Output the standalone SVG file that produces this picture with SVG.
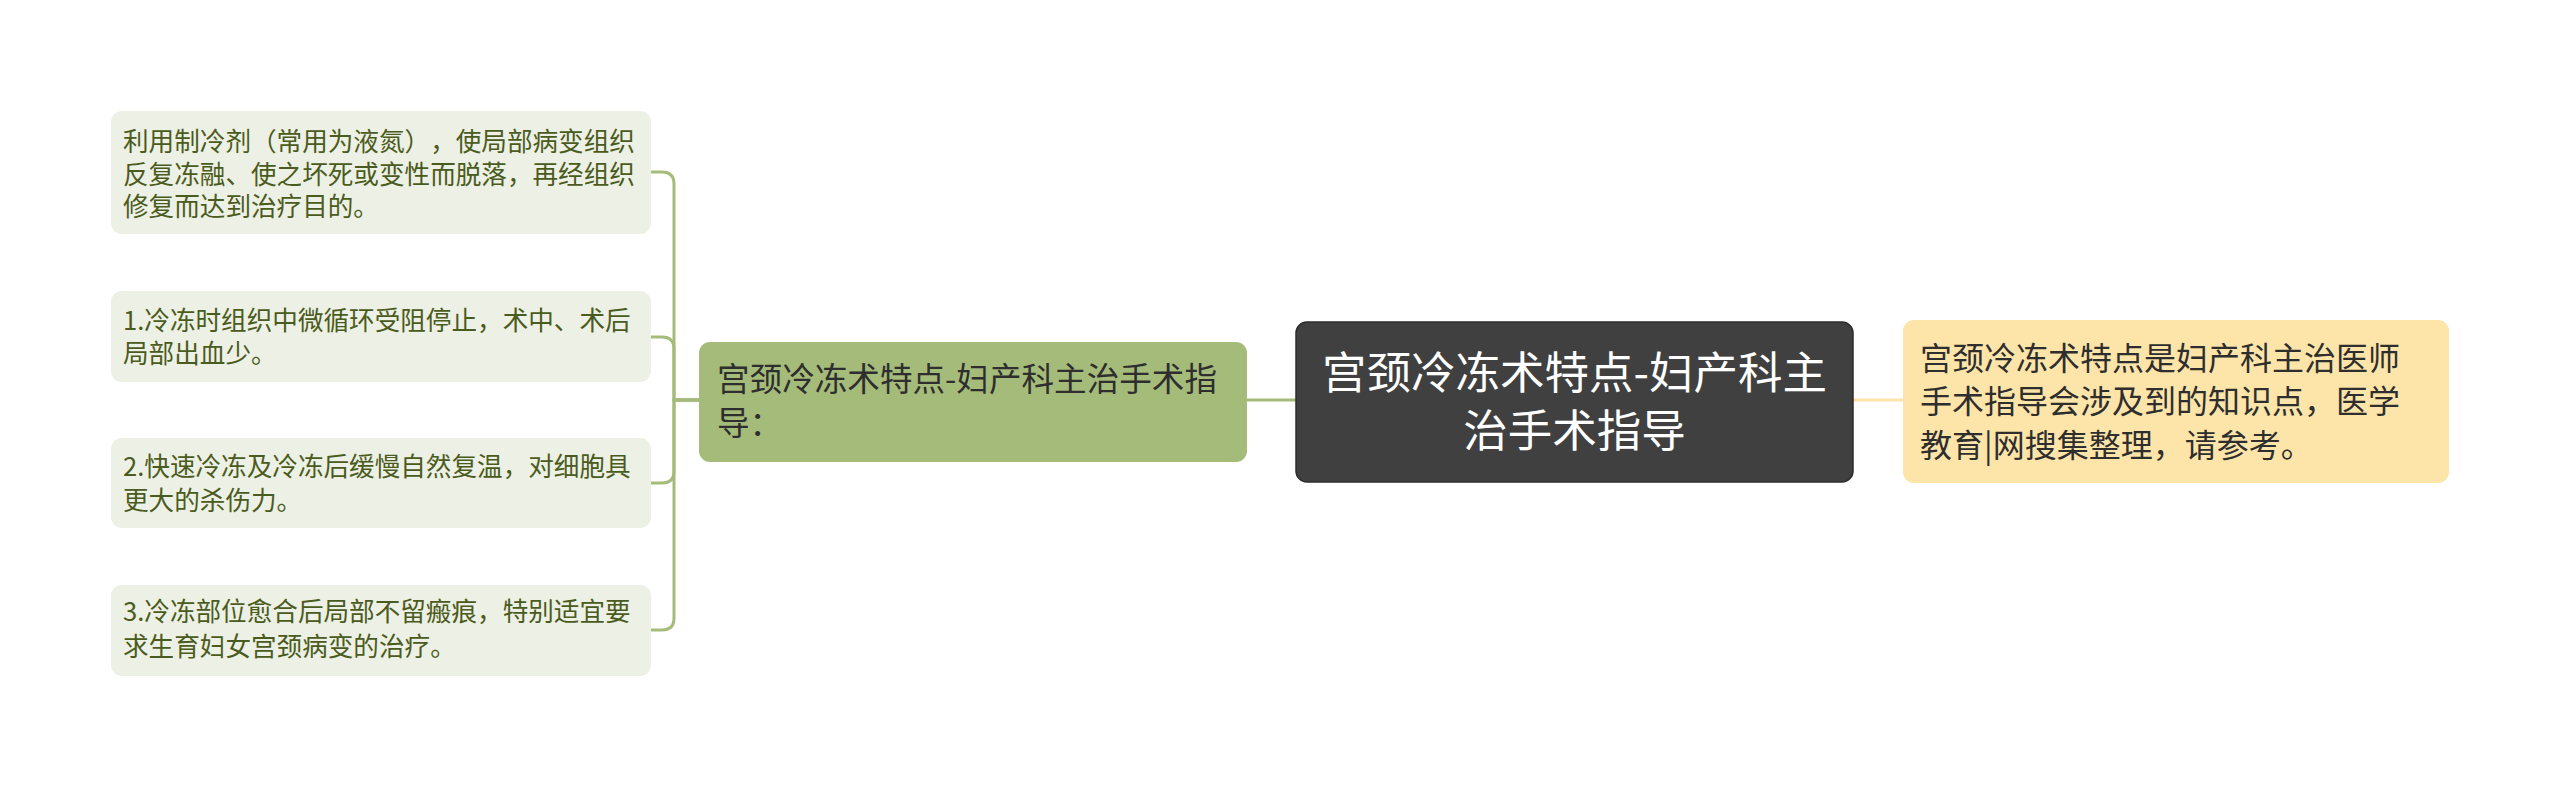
<svg xmlns="http://www.w3.org/2000/svg" width="2560" height="787" viewBox="0 0 2560 787">
<style>
text{font-family:"Noto Sans CJK SC","Noto Sans",sans-serif;text-spacing-trim:space-all;}
.leafbox{fill:#edf0e4;}
.leaftxt{font-size:25.6px;fill:#4a5b20;}
.conn{fill:none;stroke:#a5bb79;stroke-width:3;}
.conny{fill:none;stroke:#fde4a8;stroke-width:3;}
</style>
<rect width="2560" height="787" fill="#ffffff"/>
<g id="connectors">
<path class="conn" d="M699 400 H674 V184 Q674 172 662 172 H651"/>
<path class="conn" d="M699 400 H674 V349 Q674 337 662 337 H651"/>
<path class="conn" d="M699 400 H674 V471 Q674 483 662 483 H651"/>
<path class="conn" d="M699 400 H674 V618 Q674 630 662 630 H651"/>
<path class="conn" d="M1247 400 H1296"/>
<path class="conny" d="M1853 400 H1903"/>
</g>
<g id="leaf1">
<rect class="leafbox" x="111" y="111" width="540" height="123" rx="11"/>
<text class="leaftxt"><tspan x="123" y="151">利用制冷剂（常用为液氮），使局部病变组织</tspan><tspan x="123" y="183.5">反复冻融、使之坏死或变性而脱落，再经组织</tspan><tspan x="123" y="216">修复而达到治疗目的。</tspan></text>
</g>
<g id="leaf2">
<rect class="leafbox" x="111" y="291" width="540" height="91" rx="11"/>
<text class="leaftxt"><tspan x="123" y="330">1.冷冻时组织中微循环受阻停止，术中、术后</tspan><tspan x="123" y="363">局部出血少。</tspan></text>
</g>
<g id="leaf3">
<rect class="leafbox" x="111" y="438" width="540" height="90" rx="11"/>
<text class="leaftxt"><tspan x="123" y="476">2.快速冷冻及冷冻后缓慢自然复温，对细胞具</tspan><tspan x="123" y="510">更大的杀伤力。</tspan></text>
</g>
<g id="leaf4">
<rect class="leafbox" x="111" y="585" width="540" height="91" rx="11"/>
<text class="leaftxt"><tspan x="123" y="621">3.冷冻部位愈合后局部不留瘢痕，特别适宜要</tspan><tspan x="123" y="656">求生育妇女宫颈病变的治疗。</tspan></text>
</g>
<g id="branch">
<rect x="699" y="342" width="548" height="120" rx="11" fill="#a5bb79"/>
<text style="font-size:32.6px;fill:#2e2e2e"><tspan x="717" y="391">宫颈冷冻术特点-妇产科主治手术指</tspan><tspan x="717" y="435">导：</tspan></text>
</g>
<g id="root">
<rect x="1296" y="322" width="557" height="160" rx="11" fill="#404040" stroke="#2c2c2c" stroke-width="1.5"/>
<text style="font-size:44.5px;fill:#ffffff" text-anchor="middle"><tspan x="1574.5" y="389">宫颈冷冻术特点-妇产科主</tspan><tspan x="1574.5" y="447">治手术指导</tspan></text>
</g>
<g id="note">
<rect x="1903" y="320" width="546" height="163" rx="11" fill="#fde4a8"/>
<text style="font-size:32px;fill:#2e2e2e"><tspan x="1920" y="370">宫颈冷冻术特点是妇产科主治医师</tspan><tspan x="1920" y="413">手术指导会涉及到的知识点，医学</tspan><tspan x="1920" y="457">教育|网搜集整理，请参考。</tspan></text>
</g>
</svg>
